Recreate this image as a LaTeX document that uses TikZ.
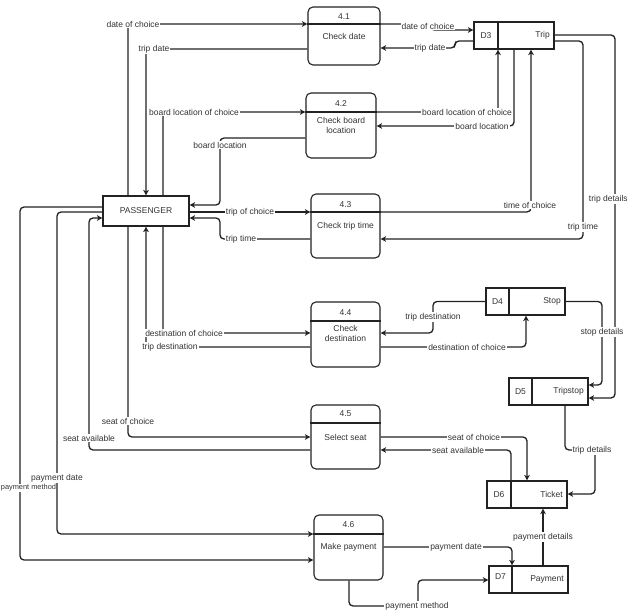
\documentclass[tikz,border=0pt]{standalone}
\usepackage{fontspec}
\setmainfont{Liberation Sans}
\usetikzlibrary{arrows.meta}
\definecolor{lc}{HTML}{222222}
\definecolor{tc}{HTML}{333333}
\begin{document}
\begin{tikzpicture}[x=1pt,y=-1pt, font=\fontsize{8.5}{10}\selectfont, text=tc,
  proc/.style={draw=lc, line width=1.1pt, rounded corners=5pt, inner sep=0pt},
  sepl/.style={draw=lc, line width=1.1pt},
  store/.style={draw=lc, line width=1.1pt, inner sep=0pt, minimum height=27pt},
  ent/.style={draw=lc, line width=1.1pt, inner sep=0pt, minimum width=86pt, minimum height=30pt},
  flow/.style={draw=lc, line width=1.3pt, rounded corners=4pt, -{Stealth[length=5.5pt,width=5.5pt,inset=1.5pt]}},
  lbl/.style={fill=white, inner sep=1pt},
  txt/.style={inner sep=0pt, align=center}
]
\useasboundingbox (0,0) rectangle (629,612);
\fill[white] (0,0) rectangle (629,612);

% ---------- entity ----------
\node[ent] (P) at (146,211) {PASSENGER};

% ---------- processes ----------
\node[proc, minimum width=72pt, minimum height=58pt] (p41) at (344,36) {};
\draw[sepl] (p41.west |- 0,24) -- (p41.east |- 0,24);
\node[txt] (n41) at (344,17) {4.1};
\node[txt] (t41) at (344,36) {Check date};

\node[proc, minimum width=70pt, minimum height=65pt] (p42) at (341,125.5) {};
\draw[sepl] (p42.west |- 0,112) -- (p42.east |- 0,112);
\node[txt] (n42) at (341,104) {4.2};
\node[txt] (t42) at (341,125) {Check board\\location};

\node[proc, minimum width=69pt, minimum height=64pt] (p43) at (345.5,226) {};
\draw[sepl] (p43.west |- 0,212) -- (p43.east |- 0,212);
\node[txt] (n43) at (345.5,205) {4.3};
\node[txt] (t43) at (345.5,226) {Check trip time};

\node[proc, minimum width=69pt, minimum height=65pt] (p44) at (345.5,334.5) {};
\draw[sepl] (p44.west |- 0,321) -- (p44.east |- 0,321);
\node[txt] (n44) at (345.5,313) {4.4};
\node[txt] (t44) at (345.5,333) {Check\\destination};

\node[proc, minimum width=69pt, minimum height=64pt] (p45) at (345.5,437) {};
\draw[sepl] (p45.west |- 0,423) -- (p45.east |- 0,423);
\node[txt] (n45) at (345.5,414) {4.5};
\node[txt] (t45) at (345.5,437) {Select seat};

\node[proc, minimum width=69pt, minimum height=65pt] (p46) at (348.5,547.5) {};
\draw[sepl] (p46.west |- 0,534) -- (p46.east |- 0,534);
\node[txt] (n46) at (348.5,525) {4.6};
\node[txt] (t46) at (348.5,547) {Make payment};

% ---------- stores ----------
\node[store, minimum width=80pt] (d3) at (514,35.5) {};
\draw[sepl] (d3.north -| 498,0) -- (d3.south -| 498,0);
\node[txt] (d3a) at (486,35.5) {D3};
\node[txt, anchor=east] (d3b) at (550,35.5) {Trip};

\node[store, minimum width=79pt] (d4) at (525.5,301.5) {};
\draw[sepl] (d4.north -| 509,0) -- (d4.south -| 509,0);
\node[txt] (d4a) at (497.5,301.5) {D4};
\node[txt, anchor=east] (d4b) at (561,301.5) {Stop};

\node[store, minimum width=79pt] (d5) at (548.5,391.5) {};
\draw[sepl] (d5.north -| 532,0) -- (d5.south -| 532,0);
\node[txt] (d5a) at (520.5,391.5) {D5};
\node[txt, anchor=east] (d5b) at (584,391.5) {Tripstop};

\node[store, minimum width=80pt] (d6) at (527,494.5) {};
\draw[sepl] (d6.north -| 511,0) -- (d6.south -| 511,0);
\node[txt] (d6a) at (499,494.5) {D6};
\node[txt, anchor=east] (d6b) at (563,494.5) {Ticket};

\node[store, minimum width=79pt] (d7) at (528.5,579.5) {};
\draw[sepl] (d7.north -| 512,0) -- (d7.south -| 512,0);
\node[txt] (d7a) at (500.5,577) {D7};
\node[txt, anchor=east] (d7b) at (564,579.5) {Payment};

% ---------- flows: passenger side ----------
\draw[flow] (P.north -| 128,0) |- (p41.west |- 0,24);
\draw[flow] (p41.west |- 0,49) -| (P.north -| 146,0);
\draw[flow] (P.north -| 163,0) |- (p42.west |- 0,112);
\draw[flow] (p42.west |- 0,138) -| (220,205) -- (P.east |- 0,205);
\draw[flow] (P.east |- 0,212) -- (p43.west |- 0,212);
\draw[flow] (p43.west |- 0,239) -| (220,218) -- (P.east |- 0,218);
\draw[flow] (P.south -| 163,0) |- (p44.west |- 0,333);
\draw[flow] (p44.west |- 0,347) -| (P.south -| 146,0);
\draw[flow] (P.south -| 128,0) |- (p45.west |- 0,437);
\draw[flow] (p45.west |- 0,450) -| (89,218) -- (P.west |- 0,218);
\draw[flow] (P.west |- 0,212) -| (57,534) -- (p46.west |- 0,534);
\draw[flow] (P.west |- 0,207) -| (20,560) -- (p46.west |- 0,560);

% ---------- flows: store side ----------
\draw[flow] (p41.east |- 0,24) -- (424,24) -- (431,30) -- (d3.west |- 0,30);
\draw[flow] (d3.west |- 0,41) -| (455,48) -- (p41.east |- 0,48);
\draw[flow] (p42.east |- 0,112) -| (d3.south -| 498,0);
\draw[flow] (d3.south -| 514,0) |- (p42.east |- 0,126);
\draw[flow] (p43.east |- 0,212) -| (d3.south -| 531,0);
\draw[flow] (d3.east |- 0,41) -| (583,239) -- (p43.east |- 0,239);
\draw[flow] (d3.east |- 0,35) -| (615,398) -- (d5.east |- 0,398);
\draw[flow] (d4.east) -| (602,385) -- (d5.east |- 0,385);
\draw[flow] (d4.west) -| (433,333) -- (p44.east |- 0,333);
\draw[flow] (p44.east |- 0,347) -| (d4.south -| 526,0);
\draw[flow] (d5.south -| 565,0) |- (595,450) |- (d6.east |- 0,494);
\draw[flow] (p45.east |- 0,437) -| (d6.north -| 527,0);
\draw[flow] (d6.north -| 511,0) |- (p45.east |- 0,450);
\draw[flow] (d7.north -| 543,0) -- (d6.south -| 543,0);
\draw[flow] (p46.east |- 0,547) -| (d7.north -| 512,0);
\draw[flow] (p46.south -| 349,0) |- (418,606) |- (d7.west |- 0,580);

% ---------- labels ----------
\node[lbl] (L1) at (133,24) {date of choice};
\node[lbl] (L2) at (154,49) {trip date};
\node[lbl] (L3) at (194,112) {board location of choice};
\node[lbl] (L4) at (220,145) {board location};
\node[lbl] (L5) at (250,212) {trip of choice};
\node[lbl] (L6) at (241,239) {trip time};
\node[lbl] (L7) at (184,333) {destination of choice};
\node[lbl] (L8) at (170,347) {trip destination};
\node[lbl] (L9) at (128,421) {seat of choice};
\node[lbl] (L10) at (89,438) {seat available};
\node[lbl] (L11) at (57,478) {payment date};
\node[lbl, inner sep=0.4pt, anchor=west, font=\fontsize{7.4}{9}\selectfont] (L12) at (0.3,488) {payment method};

\node[lbl] (R1) at (428,26) {date of choice};
\node[lbl] (R2) at (430,48) {trip date};
\node[lbl] (R3) at (467,112) {board location of choice};
\node[lbl] (R4) at (482,126) {board location};
\node[lbl] (R5) at (530,205) {time of choice};
\node[lbl] (R6) at (583,227) {trip time};
\node[lbl, anchor=east, inner sep=0.6pt] (R7) at (628.5,199) {trip details};
\node[lbl] (R8) at (602,332) {stop details};
\node[lbl] (R9) at (433,317) {trip destination};
\node[lbl] (R10) at (467,347) {destination of choice};
\node[lbl] (R11) at (592,450) {trip details};
\node[lbl] (R12) at (474,437) {seat of choice};
\node[lbl] (R13) at (458,450) {seat available};
\node[lbl] (R14) at (543,537) {payment details};
\node[lbl] (R15) at (456,547) {payment date};
\node[lbl] (R16) at (417,606) {payment method};
\end{tikzpicture}
\end{document}
